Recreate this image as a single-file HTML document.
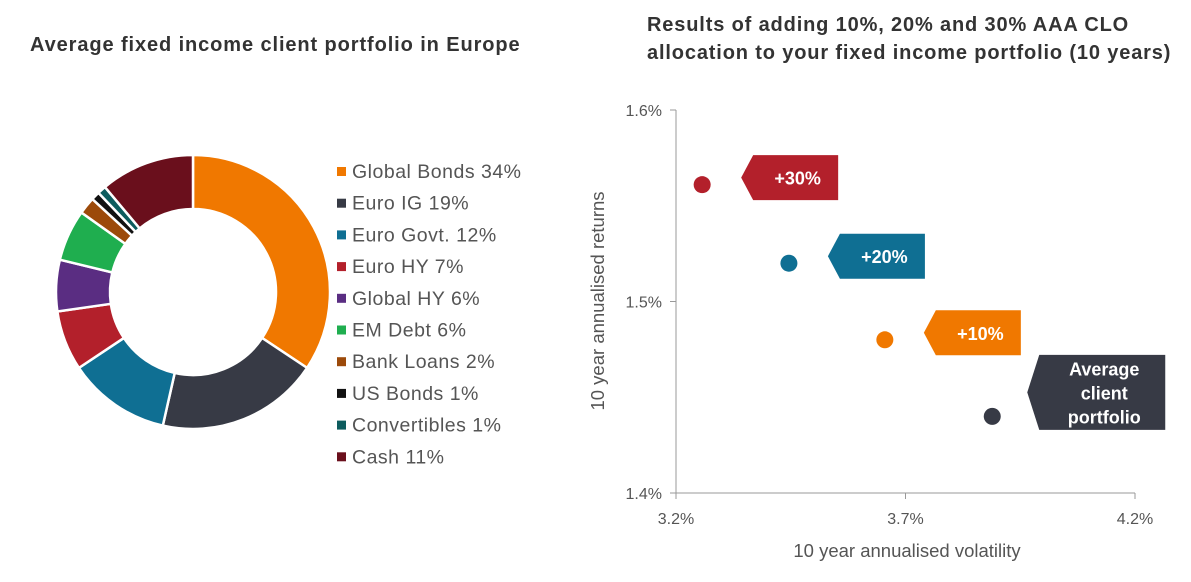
<!DOCTYPE html>
<html><head><meta charset="utf-8"><style>
body{margin:0;background:#fff;font-family:"Liberation Sans",Arial,sans-serif;}
svg text{font-family:"Liberation Sans",Arial,sans-serif;}
</style></head><body>
<svg id="c" width="1191" height="577" viewBox="0 0 1191 577" xmlns="http://www.w3.org/2000/svg">
<text x="30" y="51" font-size="20" font-weight="bold" fill="#333" letter-spacing="0.9">Average fixed income client portfolio in Europe</text>
<text x="647" y="31" font-size="20" font-weight="bold" fill="#333" letter-spacing="0.85">Results of adding 10%, 20% and 30% AAA CLO</text>
<text x="647" y="59" font-size="20" font-weight="bold" fill="#333" letter-spacing="0.85">allocation to your fixed income portfolio (10 years)</text>
<g id="donut"></g><g id="legend"></g><g id="scatter"></g>
</svg>
<script>
const sliceLabels=["Global Bonds 34%","Euro IG 19%","Euro Govt. 12%","Euro HY 7%","Global HY 6%","EM Debt 6%","Bank Loans 2%","US Bonds 1%","Convertibles 1%","Cash 11%"];
const sliceValues=[34,19,12,7,6,6,2,1,1,11];
const sliceColors=["#f07800","#373a45","#0f6f93","#b3202b","#5a2d82","#1fae4f","#9c4a0a","#111","#0d5c5e","#6a0f1c"];
const scatterNames=["+30%","+20%","+10%","Average client portfolio"];
const volatility=[3.257,3.446,3.655,3.889];
const returns=[1.561,1.520,1.480,1.440];
const pointColors=["#b3202b","#0f6f93","#f07800","#373a45"];
const xTicks=[3.2,3.7,4.2];
const yTicks=[1.4,1.5,1.6];
const NS="http://www.w3.org/2000/svg";
function mk(t,a,p){const e=document.createElementNS(NS,t);for(const k in a)e.setAttribute(k,a[k]);p.appendChild(e);return e;}
const dg=document.getElementById('donut');
const cx=193,cy=292,R=137,r=83;
const tot=sliceValues.reduce((a,b)=>a+b,0);
let ang=0;
sliceValues.forEach((v,i)=>{
 const a0=ang,a1=ang+v/tot*2*Math.PI;ang=a1;
 const p=(a,rr)=>[cx+rr*Math.sin(a),cy-rr*Math.cos(a)];
 const [x0,y0]=p(a0,R),[x1,y1]=p(a1,R),[x2,y2]=p(a1,r),[x3,y3]=p(a0,r);
 const lg=(a1-a0)>Math.PI?1:0;
 const e=mk('path',{d:`M${x0},${y0}A${R},${R} 0 ${lg} 1 ${x1},${y1}L${x2},${y2}A${r},${r} 0 ${lg} 0 ${x3},${y3}Z`,fill:sliceColors[i],stroke:'#fff','stroke-width':2.5},dg);
 
 
});
const lgG=document.getElementById('legend');
sliceLabels.forEach((s,i)=>{
 const y=172+i*31.7;
 const rc=mk('rect',{x:337,y:y-5,width:9,height:9,fill:sliceColors[i]},lgG);
 
 
 const t=mk('text',{x:352,y:y+6,'font-size':19.5,fill:'#555','letter-spacing':0.5},lgG);t.textContent=s;
 
 
});
const sg=document.getElementById('scatter');
const X=v=>676+(v-3.2)/1.0*459, Y=v=>493-(v-1.4)/0.2*383;
const ax=mk('path',{d:`M676,${Y(1.6)}V493H1135`,stroke:'#999',fill:'none','stroke-width':1},sg);


yTicks.forEach(v=>{mk('line',{x1:670,x2:676,y1:Y(v),y2:Y(v),stroke:'#999'},sg);
 const t=mk('text',{x:662,y:Y(v)+6,'font-size':16,fill:'#555','text-anchor':'end'},sg);t.textContent=v.toFixed(1)+'%';
 
 });
xTicks.forEach(v=>{mk('line',{x1:X(v),x2:X(v),y1:493,y2:499,stroke:'#999'},sg);
 const t=mk('text',{x:X(v),y:524,'font-size':16,fill:'#555','text-anchor':'middle'},sg);t.textContent=v.toFixed(1)+'%';
 
 });
const xt=mk('text',{x:907,y:557,'font-size':18.5,fill:'#555','text-anchor':'middle'},sg);xt.textContent='10 year annualised volatility';


const yt=mk('text',{x:0,y:0,'font-size':18.5,fill:'#555','text-anchor':'middle',transform:`translate(604,301) rotate(-90)`},sg);yt.textContent='10 year annualised returns';


volatility.forEach((v,i)=>{
 const px=X(v),py=Y(returns[i]);
 const c=mk('circle',{cx:px,cy:py,r:8.5,fill:pointColors[i]},sg);
 
 
 const last=i===3;
 const lx=px+(last?35:39),ly=py-(last?24:7),w=last?138:97,h=last?75:45;
 const tag=mk('path',{d:`M${lx},${ly}L${lx+12},${ly-h/2}H${lx+w}V${ly+h/2}H${lx+12}Z`,fill:pointColors[i]},sg);
 
 
 const t=mk('text',{x:lx+w/2+8,y:ly+7,'font-size':18,'font-weight':'bold',fill:'#fff','text-anchor':'middle'},sg);
 
 
 if(last){['Average','client','portfolio'].forEach((s,k)=>{const ts=mk('tspan',{x:lx+w/2+8,y:ly-17+k*24},t);ts.textContent=s;});}
 else t.textContent=scatterNames[i];
});
</script>
</body></html>
